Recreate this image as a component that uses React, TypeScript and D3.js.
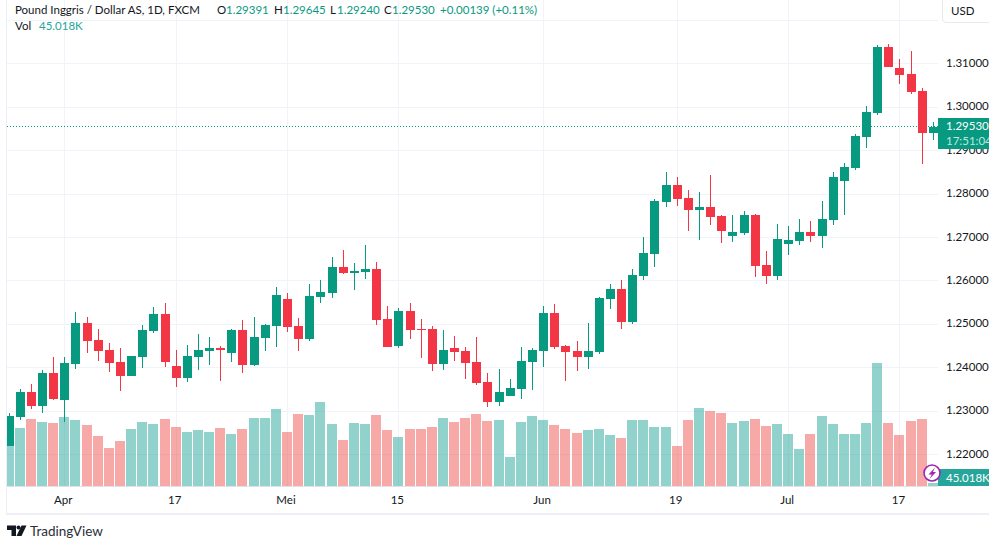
import React from "react";
import * as d3 from "d3";

const opens = [1.2218,1.2285,1.2343,1.2310,1.2386,1.2324,1.2407,1.2502,1.2462,1.2439,1.2412,1.2380,1.2423,1.2483,1.2522,1.2403,1.2375,1.2423,1.2437,1.2444,1.2432,1.2485,1.2405,1.2467,1.2495,1.2557,1.2495,1.2465,1.2561,1.2571,1.2631,1.2617,1.2619,1.2626,1.2511,1.2449,1.2529,1.2488,1.2488,1.2407,1.2444,1.2437,1.2412,1.2366,1.2320,1.2333,1.2350,1.2412,1.2437,1.2525,1.2449,1.2437,1.2423,1.2435,1.2557,1.2580,1.2504,1.2610,1.2661,1.2780,1.2820,1.2790,1.2762,1.2769,1.2748,1.2702,1.2709,1.2750,1.2635,1.2610,1.2684,1.2691,1.2711,1.2702,1.2739,1.2829,1.2859,1.2930,1.2985,1.3138,1.3089,1.3075,1.3036,1.29391];
const closes = [1.2287,1.2343,1.2310,1.2386,1.2327,1.2409,1.2502,1.2460,1.2437,1.2409,1.2380,1.2426,1.2485,1.2522,1.2412,1.2375,1.2426,1.2439,1.2444,1.2439,1.2485,1.2405,1.2469,1.2497,1.2566,1.2492,1.2465,1.2564,1.2573,1.2631,1.2617,1.2621,1.2626,1.2509,1.2446,1.2529,1.2486,1.2486,1.2407,1.2439,1.2435,1.2410,1.2363,1.2320,1.2343,1.2352,1.2414,1.2439,1.2525,1.2446,1.2435,1.2423,1.2437,1.2559,1.2580,1.2504,1.2612,1.2663,1.2783,1.2820,1.2787,1.2762,1.2769,1.2746,1.2714,1.2711,1.2750,1.2633,1.2610,1.2695,1.2693,1.2711,1.2702,1.2741,1.2838,1.2861,1.2932,1.2988,1.3138,1.3092,1.3073,1.3034,1.2939,1.29530];
const highs = [1.2294,1.2350,1.2361,1.2393,1.2423,1.2423,1.2527,1.2515,1.2488,1.2455,1.2444,1.2426,1.2497,1.2538,1.2548,1.2439,1.2451,1.2476,1.2469,1.2449,1.2488,1.2509,1.2515,1.2499,1.2585,1.2571,1.2513,1.2591,1.2601,1.2654,1.2670,1.2640,1.2681,1.2642,1.2541,1.2536,1.2548,1.2511,1.2495,1.2486,1.2472,1.2446,1.2469,1.2386,1.2396,1.2373,1.2446,1.2444,1.2541,1.2545,1.2451,1.2460,1.2502,1.2562,1.2591,1.2601,1.2626,1.2700,1.2787,1.2850,1.2838,1.2808,1.2803,1.2843,1.2750,1.2750,1.2760,1.2753,1.2668,1.2730,1.2725,1.2741,1.2737,1.2783,1.2850,1.2870,1.2937,1.3002,1.3142,1.3144,1.3110,1.3128,1.3043,1.29645];
const lows = [1.2218,1.2278,1.2303,1.2294,1.2324,1.2273,1.2396,1.2432,1.2414,1.2389,1.2345,1.2380,1.2398,1.2479,1.2400,1.2354,1.2366,1.2393,1.2405,1.2368,1.2412,1.2386,1.2403,1.2437,1.2446,1.2481,1.2437,1.2460,1.2548,1.2559,1.2615,1.2578,1.2603,1.2497,1.2446,1.2444,1.2465,1.2421,1.2391,1.2393,1.2414,1.2373,1.2359,1.2308,1.2310,1.2333,1.2326,1.2347,1.2400,1.2442,1.2368,1.2391,1.2396,1.2430,1.2534,1.2488,1.2499,1.2601,1.2631,1.2769,1.2771,1.2714,1.2693,1.2727,1.2686,1.2688,1.2704,1.2608,1.2592,1.2601,1.2658,1.2681,1.2688,1.2674,1.2727,1.2750,1.2854,1.2905,1.2981,1.3092,1.3052,1.3029,1.2868,1.29240];
const volumes = [840,870,1005,960,945,1035,990,915,750,570,675,855,960,930,1005,885,810,840,810,870,780,855,1020,1020,1155,810,1080,1065,1260,930,690,945,930,1065,840,735,855,855,885,1020,960,1020,1080,975,990,435,960,1050,990,915,855,795,840,855,765,720,990,990,885,885,600,990,1170,1125,1095,945,975,1005,900,930,780,555,780,1050,930,780,780,945,1845,945,765,975,1005,45.018];

const priceTicks = [1.31,1.30,1.29,1.28,1.27,1.26,1.25,1.24,1.23,1.22];
const extraGridPrice = 1.32;
const timeTickIndex = [5,15,25,35,48,60,70,80];
const timeTickLabel = ["Apr","17","Mei","15","Jun","19","Jul","17"];
const lastPrice = 1.2953;
const legendTitle = "Pound Inggris / Dollar AS, 1D, FXCM";
const legendValues = [["O","1.29391"],["H","1.29645"],["L","1.29240"],["C","1.29530"]];
const legendChange = "+0.00139 (+0.11%)";
const volumeLabel = "45.018K";
const countdown = "17:51:04";

const UP = "#089981";
const DOWN = "#F23645";
const UPVOL = "#26a69a";
const DOWNVOL = "#ef5350";
const GRID = "#f0f3fa";
const FONT = "Lato, 'Noto Sans', sans-serif";
const TEXT = "#131722";

const W = 989, H = 548;
const plotL = 7, plotR = 938, baseY = 486, botY = 513;

const x = d3.scaleLinear().domain([0, 83]).range([8.6, 932.9]);
const y = d3.scaleLinear().domain([1.22, 1.31]).range([453.9, 63.3]);
const yVol = d3.scaleLinear().domain([0, 1845]).range([baseY, baseY - 123]);

const legendX = [217, 274, 330, 384];
const legendValX = [226, 283, 337, 392];
const TS = 11.5;

export default function App() {
  const lastY = Math.floor(y(lastPrice)) - 1;
  return (
    <svg width={W} height={H} viewBox={`0 0 ${W} ${H}`}
      style={{ position: "absolute", left: 0, top: 0, background: "#fff", fontFamily: FONT }}>
      <defs>
        <clipPath id="plot"><rect x={plotL} y={0} width={plotR - plotL} height={baseY} /></clipPath>
        <pattern id="dots" x={plotL} y={lastY} width={3} height={2} patternUnits="userSpaceOnUse">
          <rect x={0} y={0} width={1} height={1} fill={UP} />
        </pattern>
      </defs>

      <g shapeRendering="crispEdges" stroke={GRID}>
        {[extraGridPrice, ...priceTicks].map((p) => (
          <line key={p} x1={plotL} x2={plotR} y1={Math.round(y(p)) + 0.5} y2={Math.round(y(p)) + 0.5} />
        ))}
        {timeTickIndex.map((i) => (
          <line key={i} x1={Math.round(x(i)) + 0.5} x2={Math.round(x(i)) + 0.5} y1={0} y2={baseY} />
        ))}
      </g>

      <g shapeRendering="crispEdges">
        <rect x={6} y={0} width={1} height={botY} fill="#eeeef4" />
        <rect x={6} y={botY} width={W - 6} height={1.5} fill="#eeeef4" />
        <rect x={plotL} y={baseY} width={plotR - plotL} height={1} fill="#e0e3eb" />
      </g>

      <g clipPath="url(#plot)">
        <g shapeRendering="crispEdges">
          {volumes.map((v, i) => {
            const cx = Math.round(x(i));
            const top = Math.round(yVol(v));
            return (
              <rect key={i} x={cx - 5} width={10} y={top} height={baseY - top}
                fill={closes[i] >= opens[i] ? UPVOL : DOWNVOL} fillOpacity={0.5} />
            );
          })}
        </g>

        <rect x={plotL} width={plotR - plotL} y={lastY} height={1} fill="url(#dots)" />

        <g shapeRendering="crispEdges">
          {opens.map((o, i) => {
            const c = closes[i];
            const col = c >= o ? UP : DOWN;
            const cx = Math.round(x(i));
            const top = Math.round(y(Math.max(o, c)));
            const bot = Math.round(y(Math.min(o, c)));
            const hi = Math.round(y(highs[i]));
            const lo = Math.round(y(lows[i]));
            return (
              <g key={i} fill={col}>
                <rect x={cx} width={1} y={hi} height={Math.max(lo - hi, 1)} />
                <rect x={cx - 4} width={9} y={top} height={Math.max(bot - top, 1)} />
              </g>
            );
          })}
        </g>
      </g>

      <g fontSize={TS} fill={TEXT}>
        {priceTicks.map((p) => (
          <text key={p} x={946} y={y(p) - 0.5} dy="0.36em">{d3.format(".5f")(p)}</text>
        ))}
      </g>

      <rect x={plotR} y={118} width={W - plotR} height={31} fill={UP} shapeRendering="crispEdges" />
      <text x={946} y={126} dy="0.36em" fontSize={TS} fill="#fff">{d3.format(".5f")(lastPrice)}</text>
      <text x={946} y={141} dy="0.36em" fontSize={TS} fill="#fff" fillOpacity={0.75}>{countdown}</text>

      <rect x={plotR} y={469} width={W - plotR} height={17} fill={UPVOL} shapeRendering="crispEdges" />
      <text x={946} y={477.5} dy="0.36em" fontSize={TS} fill="#fff">{volumeLabel}</text>

      <circle cx={932} cy={473} r={8} fill="#fff" stroke="#9c27b0" strokeWidth={1.6} />
      <path d="M935 467.5 L928.5 474.5 L931.8 474.5 L929.5 479 L936 472 L932.8 472 Z" fill="#9c27b0" />

      <g fontSize={TS} fill={TEXT} textAnchor="middle">
        {timeTickIndex.map((i, k) => (
          <text key={k} x={x(i) - 1} y={500} dy="0.36em">{timeTickLabel[k]}</text>
        ))}
      </g>

      <g fontSize={TS}>
        <text x={15} y={10} dy="0.36em" fill={TEXT}>{legendTitle}</text>
        {legendValues.map(([k, v], i) => (
          <g key={k}>
            <text x={legendX[i]} y={10} dy="0.36em" fill={TEXT}>{k}</text>
            <text x={legendValX[i]} y={10} dy="0.36em" fill={UP}>{v}</text>
          </g>
        ))}
        <text x={440} y={10} dy="0.36em" fill={UP}>{legendChange}</text>
        <text x={15} y={26} dy="0.36em" fill={TEXT}>Vol</text>
        <text x={39} y={26} dy="0.36em" fill={UPVOL}>{volumeLabel}</text>
      </g>

      <path d="M942.5 0 V18 Q942.5 22.5 947 22.5 H989" fill="#fff" stroke="#e8e9ef" />
      <text x={951} y={11} dy="0.36em" fontSize={TS} fill={TEXT}>USD</text>

      <g fill="#131722">
        <path d="M7 525.5 H16 V536 H11.5 V530 H7 Z" />
        <circle cx={18.5} cy={527.5} r={2} />
        <path d="M21.5 525.5 H26.5 L21.5 536 H16.5 Z" />
      </g>
      <text x={30} y={531.5} dy="0.36em" fontSize={13.5} fill="#2a2e39">TradingView</text>
    </svg>
  );
}
